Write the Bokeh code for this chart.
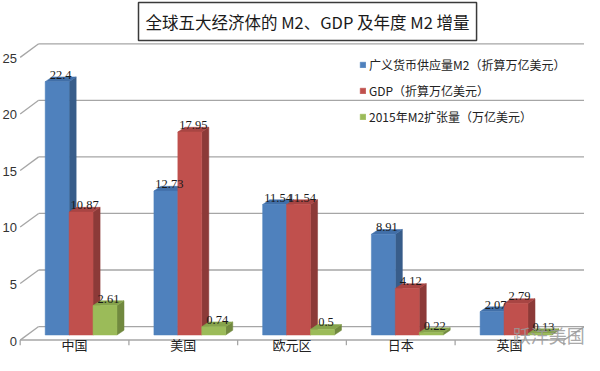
from bokeh.plotting import figure
from bokeh.models import Range1d, Legend, LegendItem
from bokeh.embed import file_html
from bokeh.resources import INLINE
from bokeh.core.properties import value

# ---- data ----
categories = ["中国", "美国", "欧元区", "日本", "英国"]
m2_stock = [22.4, 12.73, 11.54, 8.91, 2.07]
gdp = [10.87, 17.95, 11.54, 4.12, 2.79]
m2_growth_2015 = [2.61, 0.74, 0.5, 0.22, 0.13]
series_names = ["广义货币供应量M2（折算万亿美元）", "GDP（折算万亿美元）", "2015年M2扩张量（万亿美元）"]
y_ticks = [0, 5, 10, 15, 20, 25]
y_tick_labels = ["0", "5", "10", "15", "20", "25"]
title_text = "全球五大经济体的 M2、GDP 及年度 M2 增量"
watermark = "跃洋美国"

# ---- styles ----
front_colors = ["#4F81BD", "#C0504D", "#9BBB59"]
side_colors = ["#385D8A", "#8C3A38", "#71893F"]
top_colors = ["#416FA8", "#A84543", "#86A34C"]
offsets = [-0.16, 0.06, 0.28]
W = 0.22
DX, DY = 0.065, 0.42           # bar depth (3D look)
WALL_DX, WALL_DY = 0.17, 0.75  # back wall offset
XS, XE = -0.681, 4.69          # x range (frame covers full width)
YS, YE = -1.81, 26.04          # y range
FLOOR_Y = -0.45
WALL_X = -0.5
CJK = "Noto Sans CJK SC"
n = len(categories)

p = figure(width=584, height=355, output_backend="svg", toolbar_location=None,
           x_range=Range1d(XS, XE), y_range=Range1d(YS, YE),
           min_border_left=0, min_border_right=0, min_border_top=33, min_border_bottom=0)
p.outline_line_color = None
p.xgrid.visible = False
p.ygrid.visible = False
p.xaxis.visible = False
p.yaxis.visible = False
p.background_fill_color = "white"

# title in a box
p.title.text = title_text
p.title.align = "left"
p.title.offset = 138
p.title.text_font = CJK
p.title.text_font_size = "16.5px"
p.title.text_font_style = "normal"
p.title.text_color = "#1a1a1a"
p.title.border_line_color = "#3a3a3a"
p.title.border_line_width = 1.5
p.title.background_fill_color = "white"
p.title.padding = 7
p.title.standoff = 0

grid_col = "#a6a6a6"
# back wall gridlines
p.segment(x0=[WALL_X + WALL_DX] * len(y_ticks), y0=[v + WALL_DY for v in y_ticks],
          x1=[XE] * len(y_ticks), y1=[v + WALL_DY for v in y_ticks],
          line_color=grid_col, line_width=1.3)
# left wall slants
p.segment(x0=[WALL_X] * len(y_ticks), y0=[v + FLOOR_Y for v in y_ticks],
          x1=[WALL_X + WALL_DX] * len(y_ticks), y1=[v + WALL_DY for v in y_ticks],
          line_color=grid_col, line_width=1.3)
# floor front edge, right slant, category tick marks
p.segment(x0=[WALL_X], y0=[FLOOR_Y], x1=[n - 0.5], y1=[FLOOR_Y], line_color=grid_col, line_width=1.5)
p.segment(x0=[n - 0.5], y0=[FLOOR_Y], x1=[XE], y1=[WALL_DY], line_color=grid_col, line_width=1.3)
p.segment(x0=[i - 0.5 for i in range(n + 1)], y0=[FLOOR_Y] * (n + 1),
          x1=[i - 0.5 for i in range(n + 1)], y1=[FLOOR_Y - 0.45] * (n + 1),
          line_color=grid_col, line_width=1.3)

# y tick labels
p.text(x=[-0.53] * len(y_ticks), y=y_ticks, text=y_tick_labels, text_align="right",
       text_baseline="middle", y_offset=6, text_font=value("Liberation Sans"),
       text_font_size="13px", text_color="#333333")
# category labels
p.text(x=list(range(n)), y=[FLOOR_Y] * n, text=categories, text_align="center",
       text_baseline="middle", y_offset=4, text_font=value(CJK),
       text_font_size="13px", text_color="#222222")

all_series = [m2_stock, gdp, m2_growth_2015]
legend_items = []
for s, vals in enumerate(all_series):
    xs = [i + offsets[s] for i in range(n)]
    side_xs = [[x + W / 2, x + W / 2 + DX, x + W / 2 + DX, x + W / 2] for x in xs]
    side_ys = [[0, DY, v + DY, v] for v in vals]
    top_xs = [[x - W / 2, x - W / 2 + DX, x + W / 2 + DX, x + W / 2] for x in xs]
    top_ys = [[v, v + DY, v + DY, v] for v in vals]
    p.patches(side_xs, side_ys, fill_color=side_colors[s], line_color=side_colors[s], line_width=0.5)
    p.patches(top_xs, top_ys, fill_color=top_colors[s], line_color=top_colors[s], line_width=0.5)
    r = p.vbar(x=xs, top=vals, bottom=0, width=W, fill_color=front_colors[s],
               line_color=front_colors[s], line_width=0.5)
    legend_items.append(LegendItem(label=series_names[s], renderers=[r]))

# data labels on top
for s, vals in enumerate(all_series):
    xs = [i + offsets[s] + DX / 2 for i in range(n)]
    p.text(x=xs, y=vals, text=[f"{v:g}" for v in vals], text_align="center",
           text_baseline="alphabetic", y_offset=-7, text_font=value("Liberation Serif"),
           text_font_size="12.5px", text_color="#1a1a1a")

# watermark
p.text(x=[4.03], y=[0], text=[watermark], text_align="left", text_baseline="middle",
       text_font=value(CJK), text_font_size="18px", text_color="#9a9a9a", text_alpha=0.85)

legend = Legend(items=legend_items, location=(359, 230), orientation="vertical")
legend.border_line_color = None
legend.background_fill_alpha = 0
legend.label_text_font = CJK
legend.label_text_font_size = "12px"
legend.label_text_color = "#222222"
legend.glyph_width = 7
legend.glyph_height = 7
legend.label_height = 14
legend.label_standoff = 3
legend.spacing = 9
legend.padding = 0
legend.margin = 0
p.add_layout(legend)

open("out.html", "w").write(file_html(p, INLINE))
